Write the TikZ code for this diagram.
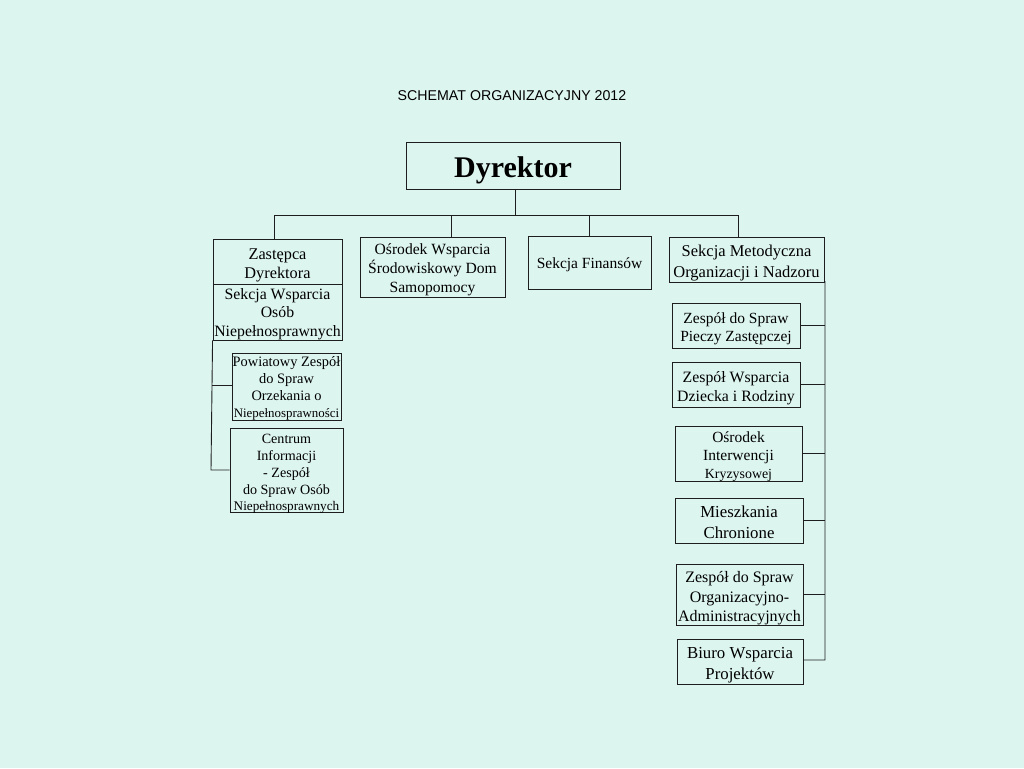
\documentclass[tikz,border=0pt]{standalone}
\usepackage{fontspec}
\setmainfont{Liberation Serif}
\newfontfamily\arialfont{Liberation Sans}
\definecolor{bgmint}{RGB}{221,245,239}
\definecolor{edge}{RGB}{30,30,30}
\newcommand\orgstrut[1]{\rule{0pt}{#1pt}}
\begin{document}
\begin{tikzpicture}[x=1pt,y=-1pt,
  orgbox/.style={draw=edge, line width=0.9pt, inner sep=0pt, align=center, text depth=0pt},
  conn/.style={draw=edge, line width=0.9pt}]
\fill[bgmint] (0,0) rectangle (1024,768);
\useasboundingbox (0,0) rectangle (1024,768);

\node[inner sep=0pt, font=\arialfont\fontsize{14.2}{17}\selectfont] (title) at (512,96) {SCHEMAT ORGANIZACYJNY 2012};

\node[orgbox, minimum width=214pt, minimum height=47pt, font=\fontsize{30}{34}\selectfont\bfseries] (dyr) at (513,165.5) {\orgstrut{24.4}Dyrektor};

\node[orgbox, minimum width=129pt, minimum height=45pt, font=\fontsize{16.3}{19}\selectfont] (zd) at (277.5,261.5) {\orgstrut{15.1}Zastępca\\Dyrektora};
\node[orgbox, minimum width=129pt, minimum height=56pt, font=\fontsize{15.8}{18.5}\selectfont] (sws) at (277.5,312) {\orgstrut{11.7}Sekcja Wsparcia\\Osób\\Niepełnosprawnych};
\node[orgbox, minimum width=145pt, minimum height=60pt, font=\fontsize{15.6}{19}\selectfont] (osd) at (432.5,267) {\orgstrut{13.2}Ośrodek Wsparcia\\Środowiskowy Dom\\Samopomocy};
\node[orgbox, minimum width=123pt, minimum height=53pt, font=\fontsize{15.5}{19}\selectfont] (fin) at (589.5,262.5) {\orgstrut{11.1}Sekcja Finansów};
\node[orgbox, minimum width=155pt, minimum height=45pt, font=\fontsize{16.5}{21}\selectfont] (met) at (746.5,259.5) {\orgstrut{14.6}Sekcja Metodyczna\\Organizacji i Nadzoru};

\node[orgbox, minimum width=109pt, minimum height=67pt, font=\fontsize{14.4}{17}\selectfont] (pow) at (286.5,386.5) {\orgstrut{11}Powiatowy Zespół\\do Spraw\\Orzekania o\\{\fontsize{12.9}{17}\selectfont Niepełnosprawności}};
\node[orgbox, minimum width=113pt, minimum height=84pt, font=\fontsize{14.1}{16.8}\selectfont] (cen) at (286.5,470) {\orgstrut{14.6}Centrum\\Informacji\\- Zespół\\do Spraw Osób\\{\fontsize{13.2}{16.8}\selectfont Niepełnosprawnych}};

\node[orgbox, minimum width=128pt, minimum height=45pt, font=\fontsize{15.5}{18.5}\selectfont] (pie) at (736,325.5) {\orgstrut{14.1}Zespół do Spraw\\Pieczy Zastępczej};
\node[orgbox, minimum width=128pt, minimum height=45pt, font=\fontsize{15.8}{19}\selectfont] (dzi) at (736,384.5) {\orgstrut{15.3}Zespół Wsparcia\\Dziecka i Rodziny};
\node[orgbox, minimum width=127pt, minimum height=55pt, font=\fontsize{15.5}{18}\selectfont] (oik) at (738.5,453.5) {\orgstrut{14.5}Ośrodek\\Interwencji\\{\fontsize{13.9}{18}\selectfont Kryzysowej}};
\node[orgbox, minimum width=128pt, minimum height=45pt, font=\fontsize{16.8}{21}\selectfont] (mie) at (739,520.5) {\orgstrut{15.4}Mieszkania\\Chronione};
\node[orgbox, minimum width=127pt, minimum height=61pt, font=\fontsize{16}{19.5}\selectfont] (zoa) at (739.5,594.5) {\orgstrut{15.3}Zespół do Spraw\\Organizacyjno-\\Administracyjnych};
\node[orgbox, minimum width=126pt, minimum height=45pt, font=\fontsize{16.8}{21}\selectfont] (biu) at (740,661.5) {\orgstrut{15.8}Biuro Wsparcia\\Projektów};

% top tree
\coordinate (hb) at (515,215);
\coordinate (d1) at (274,215);
\coordinate (d2) at (451,215);
\coordinate (d3) at (589,215);
\coordinate (d4) at (738,215);
\draw[conn] (dyr.south -| hb) -- (hb);
\draw[conn] (d1) -- (d4);
\draw[conn] (d1) -- (d1 |- zd.north);
\draw[conn] (d2) -- (d2 |- osd.north);
\draw[conn] (d3) -- (d3 |- fin.north);
\draw[conn] (d4) -- (d4 |- met.north);

% left branch
\coordinate (lb) at (211,470);
\coordinate (lp) at (212.3,385);
\draw[conn] (sws.south west) -- (lb) -- (cen.west);
\draw[conn] (lp) -- (pow.west |- lp);

% right branch
\coordinate (rt) at (825,282);
\coordinate (rb) at (825,660);
\draw[conn] (met.south east) -- (rt) -- (rb) -- (biu.east |- rb);
\draw[conn] (pie.east) -- (pie.east -| rt);
\draw[conn] (dzi.east) -- (dzi.east -| rt);
\draw[conn] (oik.east) -- (oik.east -| rt);
\draw[conn] (mie.east) -- (mie.east -| rt);
\draw[conn] (zoa.east) -- (zoa.east -| rt);
\end{tikzpicture}
\end{document}
